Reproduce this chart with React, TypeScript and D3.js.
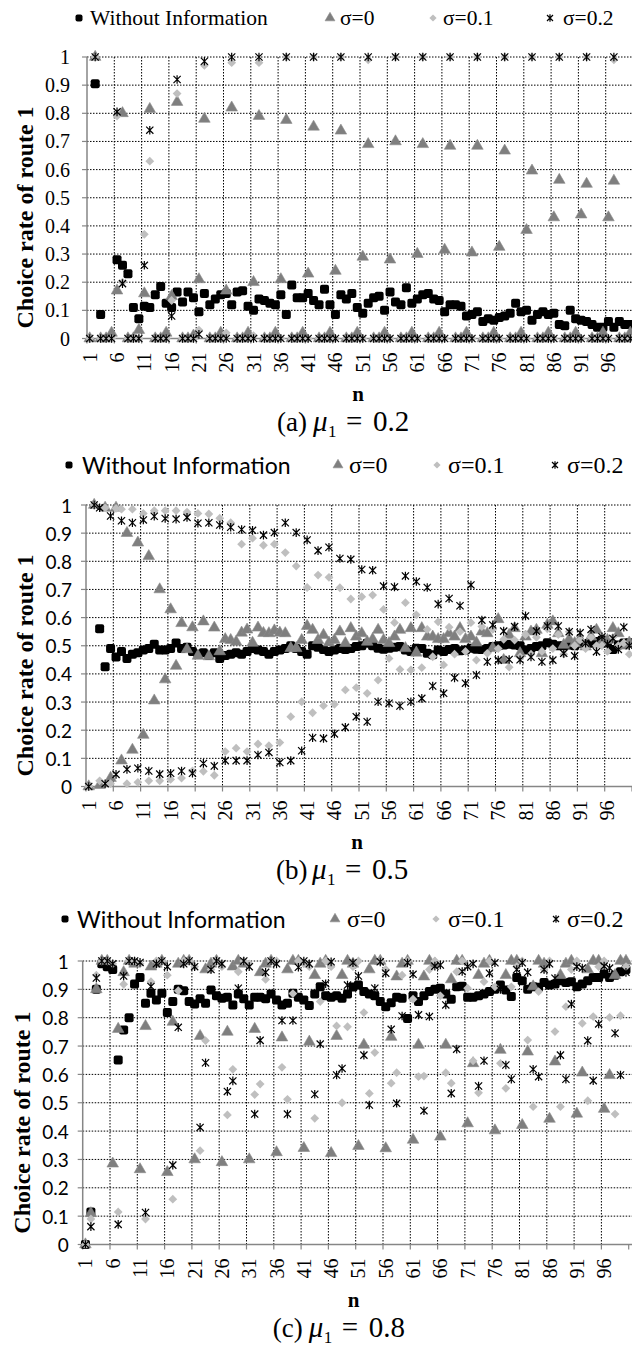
import React from 'react';
import * as d3 from 'd3';

// ---- data ----
const categories = d3.range(1, 101);
const xTickLabels = d3.range(1, 100, 5);
const yTickValues = d3.range(0, 11).map(i => i / 10);
const seriesNames = ['Without Information', 'σ=0', 'σ=0.1', 'σ=0.2'];
const panelLetters = ['a', 'b', 'c'];
const muValues = ['0.2', '0.5', '0.8'];

// (a) mu1 = 0.2
const noInfoA = [
  null, 0.905, 0.085, null, null, 0.28, 0.26, 0.23, 0.11, 0.07,
  0.115, 0.11, 0.155, 0.185, 0.125, 0.11, 0.165, 0.13, 0.165, 0.145,
  0.095, 0.16, 0.12, 0.14, 0.155, 0.16, 0.12, 0.165, 0.17, 0.115,
  0.1, 0.14, 0.135, 0.125, 0.12, 0.155, 0.085, 0.19, 0.145, 0.145,
  0.16, 0.135, 0.12, 0.175, 0.12, 0.085, 0.155, 0.14, 0.16, 0.11,
  0.09, 0.125, 0.145, 0.15, 0.1, 0.165, 0.13, 0.12, 0.18, 0.125,
  0.14, 0.155, 0.16, 0.14, 0.135, 0.095, 0.12, 0.12, 0.115, 0.08,
  0.085, 0.095, 0.06, 0.07, 0.065, 0.075, 0.08, 0.09, 0.125, 0.095,
  0.1, 0.065, 0.085, 0.095, 0.085, 0.09, 0.05, 0.045, 0.1, 0.07,
  0.065, 0.06, 0.05, 0.04, 0.04, 0.06, 0.04, 0.06, 0.05, 0.05,
];
const sigma0A = [
  0, 1.0, 0, 0, 0.02, 0.17, 0.8, 0, 0, 0.03,
  0.16, 0.815, 0, 0, 0.02, 0.15, 0.84, 0, 0, 0.01,
  0.21, 0.78, 0, 0, 0.02, 0.17, 0.82, 0, 0, 0.02,
  0.2, 0.79, 0, 0, 0.02, 0.21, 0.776, 0, 0, 0.02,
  0.23, 0.752, 0, 0, 0.02, 0.24, 0.738, 0, 0, 0.02,
  0.29, 0.69, 0, 0, 0.02, 0.28, 0.7, 0, 0, 0.02,
  0.3, 0.69, 0, 0, 0.02, 0.315, 0.684, 0, 0, 0.02,
  0.305, 0.684, 0, 0, 0.02, 0.325, 0.667, 0, 0, 0.02,
  0.385, 0.596, 0, 0, 0.02, 0.43, 0.563, 0, 0, 0.02,
  0.44, 0.549, 0, 0, 0.02, 0.43, 0.56, 0, 0, 0.02,
];
const sigma01A = [
  0, 1.0, 0, 0, 0, 0.79, 0.2, 0, 0, 0,
  0.37, 0.63, 0, 0, 0, 0.135, 0.87, 0, 0, 0,
  0.03, 0.97, 0, 0, 0, 0.02, 0.98, 0, 0, 0,
  0.01, 0.98, 0, 0, 0, 0, 1.0, 0, 0, 0,
  0, 1.0, 0, 0, 0, 0, 1.0, 0, 0, 0,
  0, 0.99, 0, 0, 0, 0, 1.0, 0, 0, 0,
  0, 1.0, 0, 0, 0, 0, 1.0, 0, 0, 0,
  0, 1.0, 0, 0, 0, 0, 1.0, 0, 0, 0,
  0, 1.0, 0, 0, 0, 0, 1.0, 0, 0, 0,
  0, 1.0, 0, 0, 0, 0, 0.99, 0, 0, 0,
];
const sigma02A = [
  0, 1.0, 0, 0, 0, 0.805, 0.195, 0, 0, 0,
  0.26, 0.74, 0, 0, 0, 0.08, 0.92, 0, 0, 0,
  0.015, 0.985, 0, 0, 0, 0, 1.0, 0, 0, 0,
  0, 1.0, 0, 0, 0, 0, 1.0, 0, 0, 0,
  0, 1.0, 0, 0, 0, 0, 1.0, 0, 0, 0,
  0, 1.0, 0, 0, 0, 0, 1.0, 0, 0, 0,
  0, 1.0, 0, 0, 0, 0, 1.0, 0, 0, 0,
  0, 1.0, 0, 0, 0, 0, 1.0, 0, 0, 0,
  0, 1.0, 0, 0, 0, 0, 1.0, 0, 0, 0,
  0, 1.0, 0, 0, 0, 0, 1.0, 0, 0, 0,
];

// (b) mu1 = 0.5
const noInfoB = [
  null, null, 0.56, 0.425, 0.49, 0.46, 0.48, 0.455, 0.47, 0.475,
  0.485, 0.49, 0.505, 0.485, 0.485, 0.49, 0.51, 0.49, 0.495, 0.48,
  0.47, 0.475, 0.465, 0.475, 0.455, 0.465, 0.47, 0.475, 0.47, 0.48,
  0.49, 0.485, 0.48, 0.47, 0.48, 0.485, 0.49, 0.5, 0.49, 0.48,
  0.47, 0.5, 0.495, 0.487, 0.48, 0.485, 0.49, 0.487, 0.49, 0.497,
  0.5, 0.509, 0.5, 0.491, 0.488, 0.491, 0.495, 0.497, 0.485, 0.48,
  0.491, 0.49, 0.473, 0.468, 0.485, 0.48, 0.487, 0.49, 0.482, 0.485,
  0.491, 0.488, 0.487, 0.49, 0.497, 0.5, 0.503, 0.505, 0.503, 0.5,
  0.485, 0.49, 0.497, 0.5, 0.511, 0.505, 0.5, 0.5, 0.503, 0.5,
  0.509, 0.505, 0.509, 0.515, 0.52, 0.51, 0.487, 0.503, 0.51, 0.511,
];
const sigma0B = [
  0, 1.0, 0.005, 0.99, 0.03, 0.99, 0.092, 0.9, 0.13, 0.866,
  0.183, 0.818, 0.305, 0.7, 0.38, 0.629, 0.428, 0.58, 0.487, 0.565,
  0.464, 0.586, 0.462, 0.564, 0.48, 0.523, 0.52, 0.514, 0.546, 0.557,
  0.51, 0.564, 0.545, 0.544, 0.554, 0.546, 0.544, 0.491, 0.491, 0.52,
  0.57, 0.556, 0.52, 0.538, 0.511, 0.52, 0.55, 0.509, 0.562, 0.532,
  0.544, 0.514, 0.523, 0.556, 0.52, 0.509, 0.532, 0.556, 0.491, 0.562,
  0.475, 0.562, 0.532, 0.532, 0.523, 0.523, 0.544, 0.532, 0.562, 0.523,
  0.532, 0.511, 0.55, 0.544, 0.491, 0.594, 0.449, 0.538, 0.562, 0.473,
  0.532, 0.55, 0.556, 0.473, 0.574, 0.586, 0.544, 0.503, 0.523, 0.509,
  0.523, 0.497, 0.532, 0.556, 0.514, 0.52, 0.562, 0.544, 0.5, 0.511,
];
const sigma01B = [
  0, 1.0, 0.02, 0.99, 0.01, 0.988, 0.985, 0.01, 0.985, 0.015,
  0.97, 0.02, 0.98, 0.02, 0.98, 0.025, 0.98, 0.03, 0.975, 0.055,
  0.97, 0.054, 0.968, 0.04, 0.953, 0.124, 0.937, 0.136, 0.861, 0.124,
  0.882, 0.151, 0.857, 0.145, 0.861, 0.156, 0.831, 0.248, 0.783, 0.301,
  0.707, 0.262, 0.751, 0.287, 0.743, 0.292, 0.706, 0.343, 0.666, 0.351,
  0.674, 0.331, 0.68, 0.378, 0.629, 0.455, 0.582, 0.416, 0.653, 0.414,
  0.61, 0.422, 0.558, 0.461, 0.585, 0.432, 0.566, 0.47, 0.55, 0.48,
  0.582, 0.449, 0.568, 0.473, 0.558, 0.49, 0.523, 0.424, 0.52, 0.46,
  0.54, 0.47, 0.53, 0.48, 0.56, 0.49, 0.54, 0.47, 0.55, 0.5,
  0.52, 0.49, 0.53, 0.5, 0.5, 0.48, 0.53, 0.5, 0.51, 0.47,
];
const sigma02B = [
  0, 1.0, 0.99, 0.01, 0.961, 0.043, 0.944, 0.061, 0.937, 0.065,
  0.947, 0.055, 0.96, 0.044, 0.952, 0.047, 0.95, 0.055, 0.956, 0.047,
  0.935, 0.082, 0.937, 0.073, 0.929, 0.092, 0.921, 0.092, 0.913, 0.092,
  0.91, 0.112, 0.893, 0.121, 0.902, 0.085, 0.937, 0.092, 0.902, 0.127,
  0.876, 0.173, 0.838, 0.171, 0.85, 0.187, 0.81, 0.21, 0.807, 0.248,
  0.771, 0.23, 0.768, 0.301, 0.712, 0.296, 0.709, 0.286, 0.748, 0.301,
  0.728, 0.313, 0.707, 0.357, 0.648, 0.331, 0.668, 0.386, 0.642, 0.367,
  0.716, 0.396, 0.591, 0.443, 0.574, 0.449, 0.552, 0.451, 0.568, 0.45,
  0.606, 0.46, 0.552, 0.443, 0.57, 0.449, 0.57, 0.473, 0.55, 0.464,
  0.546, 0.509, 0.558, 0.479, 0.532, 0.506, 0.526, 0.487, 0.566, 0.5,
];

// (c) mu1 = 0.8
const noInfoC = [
  0, 0.115, 0.9, 0.99, 0.98, 0.97, 0.651, 0.757, 0.8, 0.919,
  0.942, 0.851, 0.886, 0.862, 0.886, 0.818, 0.857, 0.9, 0.895, 0.857,
  0.848, 0.867, 0.851, 0.898, 0.877, 0.869, 0.872, 0.845, 0.884, 0.867,
  0.845, 0.872, 0.872, 0.867, 0.884, 0.862, 0.845, 0.851, 0.886, 0.872,
  0.862, 0.843, 0.884, 0.909, 0.877, 0.872, 0.877, 0.869, 0.884, 0.908,
  0.915, 0.892, 0.884, 0.877, 0.857, 0.839, 0.853, 0.872, 0.869, 0.797,
  0.877, 0.857, 0.877, 0.892, 0.9, 0.904, 0.884, 0.865, 0.909, 0.911,
  0.872, 0.872, 0.877, 0.884, 0.892, 0.9, 0.915, 0.898, 0.875, 0.942,
  0.93, 0.9, 0.909, 0.907, 0.924, 0.915, 0.919, 0.93, 0.924, 0.927,
  0.909, 0.919, 0.93, 0.942, 0.942, 0.954, 0.942, 0.95, 0.962, 0.97,
];
const sigma0C = [
  0, 0.11, 0.9, 1.0, 1.0, 0.285, 0.76, 0.96, 1.0, 0.99,
  0.265, 0.77, 0.98, 0.99, 1.0, 0.255, 0.785, 0.99, 1.0, 1.0,
  0.3, 0.735, 0.97, 0.99, 1.0, 0.29, 0.75, 0.98, 1.0, 0.99,
  0.3, 0.76, 0.96, 0.99, 1.0, 0.325, 0.73, 0.97, 1.0, 1.0,
  0.34, 0.715, 0.95, 0.99, 1.0, 0.322, 0.735, 0.95, 1.0, 0.99,
  0.347, 0.704, 0.97, 1.0, 1.0, 0.339, 0.732, 0.945, 0.99, 1.0,
  0.369, 0.704, 0.945, 1.0, 0.99, 0.38, 0.704, 0.935, 1.0, 1.0,
  0.427, 0.639, 0.95, 0.99, 1.0, 0.402, 0.686, 0.95, 1.0, 1.0,
  0.421, 0.68, 0.91, 1.0, 0.99, 0.443, 0.645, 0.95, 0.99, 1.0,
  0.461, 0.606, 0.97, 1.0, 1.0, 0.478, 0.597, 0.95, 1.0, 1.0,
];
const sigma01C = [
  0, 0.09, 0.95, 1.0, 1.0, 0.99, 0.115, 0.918, 1.0, 1.0,
  0.99, 0.09, 0.927, 1.0, 1.0, 0.95, 0.16, 0.895, 1.0, 1.0,
  0.98, 0.331, 0.719, 0.97, 1.0, 0.98, 0.457, 0.618, 0.962, 1.0,
  0.99, 0.529, 0.566, 0.935, 1.0, 1.0, 0.625, 0.512, 0.885, 1.0,
  0.99, 0.98, 0.445, 0.857, 1.0, 0.98, 0.771, 0.5, 0.768, 0.98,
  1.0, 0.818, 0.533, 0.677, 1.0, 0.97, 0.569, 0.606, 0.95, 1.0,
  0.865, 0.592, 0.594, 0.97, 1.0, 0.877, 0.606, 0.569, 0.962, 1.0,
  0.904, 0.648, 0.535, 0.927, 1.0, 0.909, 0.639, 0.551, 0.909, 0.98,
  1.0, 0.721, 0.486, 0.892, 0.97, 1.0, 0.751, 0.486, 0.839, 0.97,
  1.0, 0.78, 0.507, 0.804, 0.98, 1.0, 0.801, 0.46, 0.807, 0.98,
];
const sigma02C = [
  0, 0.063, 0.94, 1.0, 1.0, 0.99, 0.071, 0.947, 1.0, 1.0,
  0.995, 0.113, 0.91, 0.99, 1.0, 0.98, 0.28, 0.766, 0.99, 1.0,
  0.98, 0.413, 0.641, 0.97, 1.0, 0.99, 0.54, 0.577, 0.904, 1.0,
  0.98, 0.46, 0.72, 0.96, 1.0, 0.99, 0.79, 0.46, 0.79, 0.978,
  1.0, 0.99, 0.53, 0.707, 0.92, 0.997, 0.598, 0.621, 0.915, 0.994,
  0.947, 0.668, 0.492, 0.904, 0.997, 0.957, 0.759, 0.498, 0.806, 0.994,
  0.953, 0.81, 0.472, 0.804, 0.982, 0.986, 0.845, 0.533, 0.689, 0.963,
  0.98, 0.99, 0.559, 0.648, 0.957, 0.994, 0.9, 0.633, 0.583, 0.97,
  0.994, 0.96, 0.618, 0.592, 0.97, 0.99, 0.939, 0.668, 0.583, 0.848,
  0.98, 0.975, 0.719, 0.578, 0.778, 0.982, 0.975, 0.745, 0.598, 0.96,
];

// ---- layout ----
const W = 632;
const H = 1346;
const STEP = 5.46;
const SERIF = 'Liberation Serif, DejaVu Serif, serif';
const SANS = 'Lato, Liberation Sans, sans-serif';

const layouts = [
  { axisX: 87, yTop: 57, yZero: 338.5, legendY: 18, markX: [79, 330, 433, 550], textX: [90, 340, 443, 563], sans: false, legendSize: 21.5, titleX: 33 },
  { axisX: 86, yTop: 505, yZero: 786.5, legendY: 465, markX: [69, 338, 437, 555], textX: [82, 349, 448, 567], sans: true, legendSize: 24, titleX: 33 },
  { axisX: 82.7, yTop: 961, yZero: 1244.5, legendY: 919, markX: [65, 335, 436, 556], textX: [77, 347, 448, 567], sans: true, legendSize: 24, titleX: 30 },
];

const panelData = [
  [noInfoA, sigma0A, sigma01A, sigma02A],
  [noInfoB, sigma0B, sigma01B, sigma02B],
  [noInfoC, sigma0C, sigma01C, sigma02C],
];

const trianglePath = d3.symbol(d3.symbolTriangle, 58)();
const legendTrianglePath = d3.symbol(d3.symbolTriangle, 42)();

function Marker({ kind, x, y, legend }: { kind: number; x: number; y: number; legend?: boolean }) {
  if (kind === 0) {
    const s = legend ? 7 : 9;
    return <rect x={x - s / 2} y={y - s / 2} width={s} height={s} rx={2} fill="#000" />;
  }
  if (kind === 1) {
    return <path d={legend ? legendTrianglePath! : trianglePath!} transform={`translate(${x},${y})`} fill="#7f7f7f" stroke="#8c8c8c" strokeWidth={0.6} />;
  }
  if (kind === 2) {
    const r = legend ? 3.6 : 4.4;
    return <path d={`M${x},${y - r}L${x + r},${y}L${x},${y + r}L${x - r},${y}Z`} fill="#bfbfbf" />;
  }
  const r = legend ? 3 : 3.6;
  return (
    <path
      d={`M${x - r},${y - r}L${x + r},${y + r}M${x - r},${y + r}L${x + r},${y - r}M${x},${y - r - 0.7}L${x},${y + r + 0.7}`}
      stroke="#000"
      strokeWidth={1.2}
      fill="none"
    />
  );
}

function Panel({ idx }: { idx: number }) {
  const L = layouts[idx];
  const data = panelData[idx];
  const right = 634;
  const x = d3.scaleLinear().domain([0.5, 100.5]).range([L.axisX, L.axisX + 100 * STEP]);
  const y = d3.scaleLinear().domain([0, 1]).range([L.yZero, L.yTop]);
  const gridX = d3.range(1, 20).map(k => x(k * 5 + 0.5));
  const tickX = d3.range(0, 21).map(k => x(k * 5 + 0.5));
  const tickFont = L.sans ? SANS : SERIF;
  const capX = L.axisX + 190;
  const capBase = L.yZero + 92;

  return (
    <g>
      {/* legend */}
      {seriesNames.map((name, i) => (
        <g key={name}>
          <Marker kind={i} x={L.markX[i]} y={L.legendY} legend />
          <text
            x={L.textX[i]}
            y={L.legendY}
            dominantBaseline="central"
            style={{ fontFamily: i === 0 && L.sans ? SANS : SERIF }}
            fontSize={i === 0 && L.sans ? 23 : L.legendSize}
            fill="#000"
          >
            {name}
          </text>
        </g>
      ))}

      {/* gridlines */}
      {yTickValues.filter(v => v > 0).map(v => (
        <line key={`h${v}`} x1={L.axisX} x2={right} y1={y(v)} y2={y(v)} stroke="#000" strokeWidth={1} strokeDasharray="1.5 1.5" />
      ))}
      {gridX.map(gx => (
        <line key={`v${gx}`} x1={gx} x2={gx} y1={L.yTop} y2={L.yZero} stroke="#000" strokeWidth={1} strokeDasharray="1.5 1.5" />
      ))}

      {/* axes */}
      <line x1={L.axisX} x2={L.axisX} y1={L.yTop} y2={L.yZero} stroke="#868686" strokeWidth={1.5} />
      <line x1={L.axisX} x2={right} y1={L.yZero} y2={L.yZero} stroke="#868686" strokeWidth={1.5} />
      {yTickValues.map(v => (
        <line key={`yt${v}`} x1={L.axisX - 5} x2={L.axisX} y1={y(v)} y2={y(v)} stroke="#868686" strokeWidth={1.2} />
      ))}
      {tickX.map(tx => (
        <line key={`xt${tx}`} x1={tx} x2={tx} y1={L.yZero} y2={L.yZero + 5} stroke="#868686" strokeWidth={1.2} />
      ))}

      {/* y tick labels */}
      {yTickValues.map(v => (
        <text
          key={`yl${v}`}
          x={L.axisX - (L.sans ? 14 : 17)}
          y={y(v)}
          textAnchor="end"
          dominantBaseline="central"
          style={{ fontFamily: tickFont }}
          fontSize={L.sans ? 19 : 20}
        >
          {d3.format('~g')(v)}
        </text>
      ))}

      {/* x tick labels */}
      {xTickLabels.map(n => (
        <text
          key={`xl${n}`}
          transform={`translate(${x(n)},${L.yZero + 14}) rotate(-90)`}
          textAnchor="end"
          dominantBaseline="central"
          style={{ fontFamily: SERIF }}
          fontSize={20}
        >
          {n}
        </text>
      ))}

      {/* axis titles */}
      <text
        transform={`translate(${L.titleX},${y(0.43)}) rotate(-90)`}
        textAnchor="middle"
        style={{ fontFamily: SERIF }}
        fontWeight="bold"
        fontSize={24}
      >
        Choice rate of route 1
      </text>
      <text x={L.axisX + 271} y={L.yZero + 55.5} textAnchor="middle" dominantBaseline="central" style={{ fontFamily: SERIF }} fontWeight="bold" fontSize={21}>
        n
      </text>

      {/* caption */}
      <g style={{ fontFamily: SERIF }} fill="#000">
        <text x={capX} y={capBase} fontSize={27}>({panelLetters[idx]})</text>
        <text x={capX + 36} y={capBase} fontSize={29} fontStyle="italic">μ</text>
        <text x={capX + 51} y={capBase + 6} fontSize={17}>1</text>
        <text x={capX + 69} y={capBase} fontSize={29}>=</text>
        <text x={capX + 96} y={capBase} fontSize={29}>{muValues[idx]}</text>
      </g>

      {/* markers */}
      {data.map((series, si) => (
        <g key={`s${si}`}>
          {categories.map((n, i) =>
            series[i] == null ? null : <Marker key={n} kind={si} x={x(n)} y={y(series[i] as number)} />
          )}
        </g>
      ))}
    </g>
  );
}

export default function App() {
  return (
    <div style={{ position: 'absolute', left: 0, top: 0, width: W, height: H, background: '#fff' }}>
      <svg width={W} height={H} viewBox={`0 0 ${W} ${H}`} style={{ display: 'block' }}>
        <rect width={W} height={H} fill="#fff" />
        {layouts.map((_, i) => (
          <Panel key={i} idx={i} />
        ))}
      </svg>
    </div>
  );
}
